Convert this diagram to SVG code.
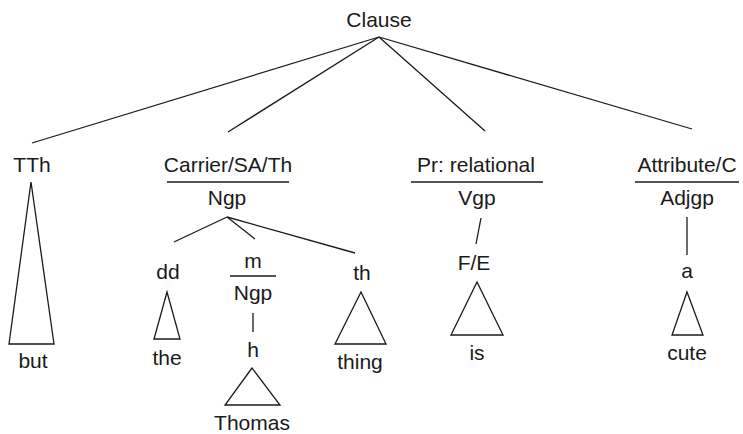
<svg xmlns="http://www.w3.org/2000/svg" width="743" height="434" viewBox="0 0 743 434">
<style>
text{font-family:"Liberation Sans",Arial,sans-serif;font-size:21px;fill:#1a1a1a;text-anchor:middle}
line,polygon,polyline{stroke:#1a1a1a;stroke-width:1.3;fill:none}
</style>
<rect width="743" height="434" fill="#fff"/>
<g id="connectors">
<line x1="379" y1="37" x2="32" y2="143"/>
<line x1="379" y1="37" x2="228" y2="132"/>
<line x1="379" y1="37" x2="485" y2="131"/>
<line x1="379" y1="37" x2="692" y2="129"/>
<line x1="227" y1="217" x2="174" y2="242"/>
<line x1="227" y1="217" x2="255" y2="239"/>
<line x1="227" y1="217" x2="355" y2="253"/>
<line x1="253" y1="313" x2="253" y2="332"/>
<line x1="481" y1="218" x2="476" y2="244"/>
<line x1="687" y1="217" x2="687" y2="255"/>
</g>
<g id="clause"><text x="379" y="27">Clause</text></g>
<g id="tth">
<text x="32" y="172">TTh</text>
<polygon points="31,182 9,344 54,344"/>
<text x="33" y="368">but</text>
</g>
<g id="carrier">
<text x="228" y="172">Carrier/SA/Th</text>
<line x1="167" y1="182" x2="289" y2="182"/>
<text x="227" y="205">Ngp</text>
</g>
<g id="dd">
<text x="168" y="279">dd</text>
<polygon points="167,292 154,339 180,339"/>
<text x="167" y="365">the</text>
</g>
<g id="m">
<text x="253" y="268">m</text>
<line x1="230" y1="276" x2="276" y2="276"/>
<text x="253" y="300">Ngp</text>
<text x="253" y="357">h</text>
<polygon points="252,368 225,405 280,405"/>
<text x="252" y="430">Thomas</text>
</g>
<g id="th">
<text x="362" y="280">th</text>
<polygon points="361,292 335,344 386,344"/>
<text x="360" y="369">thing</text>
</g>
<g id="process">
<text x="476" y="172">Pr: relational</text>
<line x1="411" y1="182" x2="543" y2="182"/>
<text x="477" y="205">Vgp</text>
<text x="474" y="270">F/E</text>
<polygon points="477,282 451,335 503,335"/>
<text x="477" y="360">is</text>
</g>
<g id="attribute">
<text x="687" y="172">Attribute/C</text>
<line x1="635" y1="182" x2="739" y2="182"/>
<text x="687" y="205">Adjgp</text>
<text x="687" y="278">a</text>
<polygon points="687,292 672,335 703,335"/>
<text x="687" y="360">cute</text>
</g>
</svg>
